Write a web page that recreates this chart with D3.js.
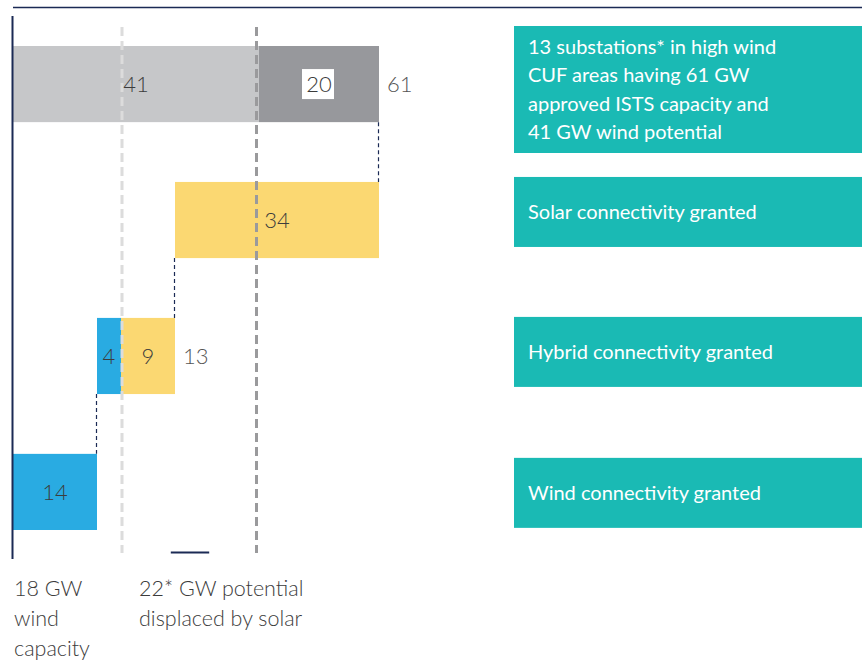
<!DOCTYPE html>
<html>
<head>
<meta charset="utf-8">
<script src="https://cdn.jsdelivr.net/npm/d3@7"></script>
<style>
  body { margin: 0; background: #fff; }
  svg text { font-family: Lato, 'Open Sans', sans-serif; }
</style>
</head>
<body>
<div id="chart"></div>
<script>
// rows of the chart, top to bottom
const categories = ['ists', 'solar', 'hybrid', 'wind']

// GW values
const istsValues = [41, 20] // wind potential, rest of approved ISTS capacity
const istsTotal = 61
const solarValue = 34
const hybridValues = [4, 9] // wind part, solar part
const hybridTotal = 13
const windValue = 14

const refLines = [18, 41] // GW

const boxTexts = [
  ['13 substations* in high wind', 'CUF areas having 61 GW', 'approved ISTS capacity and', '41 GW wind potential'],
  ['Solar connectivity granted'],
  ['Hybrid connectivity granted'],
  ['Wind connectivity granted']
]
const bottomLabels = [
  { at: 0, lines: ['18 GW', 'wind', 'capacity'] },
  { at: 21, lines: ['22* GW potential', 'displaced by solar'] }
]

const COLORS = {
  windPot: '#c6c7c9',
  rest: '#97989c',
  solar: '#fbd872',
  wind: '#29abe2',
  teal: '#1abab4',
  navy: '#1b2a55'
}

const dimensions = { width: 862, height: 662 }

// segments built from the arrays above (start is cumulative)
const segments = [
  { row: 'ists', start: 0, value: istsValues[0], fill: COLORS.windPot, label: 'in' },
  { row: 'ists', start: istsValues[0], value: istsValues[1], fill: COLORS.rest, label: 'boxed' },
  { row: 'solar', start: istsTotal - solarValue, value: solarValue, fill: COLORS.solar, label: 'in' },
  { row: 'hybrid', start: windValue, value: hybridValues[0], fill: COLORS.wind, label: 'in' },
  { row: 'hybrid', start: windValue + hybridValues[0], value: hybridValues[1], fill: COLORS.solar, label: 'in' },
  { row: 'wind', start: 0, value: windValue, fill: COLORS.wind, label: 'in' }
]
const totals = [
  { row: 'ists', value: istsTotal, end: istsTotal },
  { row: 'hybrid', value: hybridTotal, end: windValue + hybridValues[0] + hybridValues[1] }
]
// dotted connectors: from end of one row down to the next
const connectors = [
  { from: 'ists', to: 'solar', at: istsTotal },
  { from: 'solar', to: 'hybrid', at: istsTotal - solarValue },
  { from: 'hybrid', to: 'wind', at: windValue }
]

const svg = d3.select('#chart').append('svg')
  .attr('width', dimensions.width)
  .attr('height', dimensions.height)

const xScale = d3.scaleLinear().domain([0, istsTotal]).range([13, 379])
const yScale = d3.scaleBand().domain(categories)
  .range([46, 530]).paddingInner(0.44).paddingOuter(0)
const bw = yScale.bandwidth()

// top rule
svg.append('line')
  .attr('x1', 13).attr('x2', dimensions.width)
  .attr('y1', 7.5).attr('y2', 7.5)
  .attr('stroke', COLORS.navy).attr('stroke-width', 1.5)

// bars
svg.append('g').selectAll('rect')
  .data(segments)
  .join('rect')
  .attr('x', d => xScale(d.start))
  .attr('y', d => yScale(d.row))
  .attr('width', d => xScale(d.start + d.value) - xScale(d.start))
  .attr('height', bw)
  .attr('fill', d => d.fill)

// reference dashed lines
const refShift = [1, -2.5]
svg.append('g').selectAll('line')
  .data(refLines)
  .join('line')
  .attr('x1', (d, i) => xScale(d) + refShift[i])
  .attr('x2', (d, i) => xScale(d) + refShift[i])
  .attr('y1', 27).attr('y2', 553)
  .attr('stroke', (d, i) => i === 0 ? '#dcdcdc' : '#9a9a9c')
  .attr('stroke-width', 3)
  .attr('stroke-dasharray', '9,5')

// connectors
svg.append('g').selectAll('line')
  .data(connectors)
  .join('line')
  .attr('x1', d => xScale(d.at) - 0.5).attr('x2', d => xScale(d.at) - 0.5)
  .attr('y1', d => yScale(d.from) + bw)
  .attr('y2', d => yScale(d.to))
  .attr('stroke', COLORS.navy).attr('stroke-width', 1.2)
  .attr('stroke-dasharray', '4,3')

// small mark at the bottom
svg.append('line')
  .attr('x1', xScale(26.3)).attr('x2', xScale(32.7))
  .attr('y1', 552.5).attr('y2', 552.5)
  .attr('stroke', COLORS.navy).attr('stroke-width', 2)

// left axis
svg.append('line')
  .attr('x1', 12.5).attr('x2', 12.5)
  .attr('y1', 16).attr('y2', 559)
  .attr('stroke', COLORS.navy).attr('stroke-width', 2)

// value labels
const labels = svg.append('g')
  .attr('font-size', 22)
  .attr('font-weight', 300)
  .attr('fill', '#3c3c3c')

const boxed = segments.filter(d => d.label === 'boxed')
labels.selectAll('rect.lblbox')
  .data(boxed)
  .join('rect')
  .attr('class', 'lblbox')
  .attr('x', d => xScale(d.start + d.value / 2) - 17)
  .attr('y', d => yScale(d.row) + bw / 2 - 15)
  .attr('width', 32).attr('height', 30)
  .attr('fill', '#fff')

labels.selectAll('text.seg')
  .data(segments)
  .join('text')
  .attr('class', 'seg')
  .attr('x', d => xScale(d.start + d.value / 2))
  .attr('y', d => yScale(d.row) + bw / 2 + 8)
  .attr('text-anchor', 'middle')
  .text(d => d.value)

labels.selectAll('text.tot')
  .data(totals)
  .join('text')
  .attr('class', 'tot')
  .attr('x', d => xScale(d.end) + 8)
  .attr('y', d => yScale(d.row) + bw / 2 + 8)
  .attr('fill', '#555')
  .text(d => d.value)

// teal boxes on the right
const boxOffsets = [-20, -5, -1, 4]
const boxHeights = [127, 70, 70, 70]
const boxes = svg.append('g').selectAll('g')
  .data(categories)
  .join('g')
  .attr('transform', (d, i) => `translate(514, ${yScale(d) + boxOffsets[i]})`)

boxes.append('rect')
  .attr('width', dimensions.width - 514)
  .attr('height', (d, i) => boxHeights[i])
  .attr('fill', COLORS.teal)

boxes.each(function (d, i) {
  const lines = boxTexts[i]
  const h = boxHeights[i]
  const lineH = 28.3
  const first = h / 2 - (lines.length - 1) * lineH / 2 + 7
  d3.select(this).selectAll('text')
    .data(lines)
    .join('text')
    .attr('x', 14)
    .attr('y', (t, j) => first + j * lineH)
    .attr('fill', '#fff')
    .attr('font-size', 20)
    .text(t => t)
})

// bottom captions
const caps = svg.append('g')
  .attr('font-size', 21.5)
  .attr('font-weight', 300)
  .attr('fill', '#3c3c3c')
bottomLabels.forEach(b => {
  caps.append('g').selectAll('text')
    .data(b.lines)
    .join('text')
    .attr('x', xScale(b.at) + (b.at === 0 ? 1 : 0))
    .attr('y', (t, j) => 596 + j * 30)
    .text(t => t)
})
</script>
</body>
</html>
